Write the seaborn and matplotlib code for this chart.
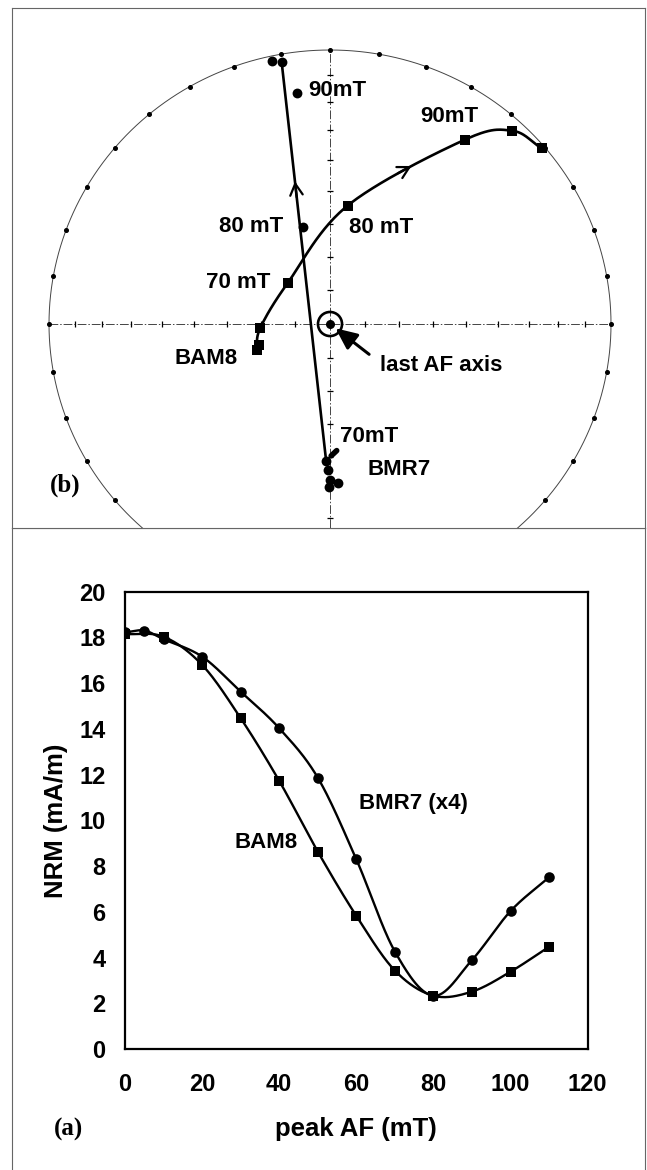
import numpy as np
import pandas as pd
import matplotlib
matplotlib.use('Agg')
import matplotlib.pyplot as plt
import seaborn as sns

# (a) AF demagnetisation of the NRM intensity
af_bmr7 = [0, 5, 10, 20, 30, 40, 50, 60, 70, 80, 90, 100, 110]
nrm_bmr7 = [18.22, 18.30, 17.92, 17.16, 15.63, 14.03, 11.87, 8.30, 4.27, 2.34, 3.90, 6.04, 7.52]
af_bam8 = [0, 10, 20, 30, 40, 50, 60, 70, 80, 90, 100, 110]
nrm_bam8 = [18.15, 18.03, 16.80, 14.47, 11.73, 8.64, 5.83, 3.44, 2.34, 2.52, 3.39, 4.48]

# (b) directions (declination, inclination) on the equal-area net
bam8_dec = [250.0, 252.9, 266.9, 315.4, 8.3, 35.5, 42.6, 49.6]
bam8_inc = [67.3, 68.3, 69.8, 72.7, 54.0, 18.5, 4.7, 1.3]
bmr7_dec = [181.6, 180.6, 180.0, 177.1, 180.2, 345.0, 352.0, 347.8, 349.8]
bmr7_inc = [48.7, 45.7, 42.5, 41.4, 40.2, 59.9, 16.1, 1.9, 3.1]
last_af_dec, last_af_inc = 0.0, 90.0

sns.set_theme(style='white')
plt.rcParams['font.family'] = ['Liberation Sans', 'DejaVu Sans']
plt.rcParams['font.weight'] = 'bold'
plt.rcParams['text.color'] = 'black'
plt.rcParams['axes.labelcolor'] = 'black'
plt.rcParams['xtick.color'] = 'black'
plt.rcParams['ytick.color'] = 'black'


def equal_area(dec, inc):
    dec = np.radians(np.asarray(dec, float))
    r = np.sqrt(2) * np.sin(np.radians(90 - np.abs(np.asarray(inc, float))) / 2)
    return r * np.sin(dec), r * np.cos(dec)


def smooth(x, y, sx=1.0, sy=1.0, n=30):
    # catmull-rom through the points, like excel's smoothed line
    p = np.column_stack([np.asarray(x, float) * sx, np.asarray(y, float) * sy])
    p = np.vstack([2 * p[0] - p[1], p, 2 * p[-1] - p[-2]])
    t = np.linspace(0, 1, n, endpoint=False)[:, None]
    segs = []
    for i in range(1, len(p) - 2):
        p0, p1, p2, p3 = p[i - 1], p[i], p[i + 1], p[i + 2]
        segs.append(0.5 * (2 * p1 + (p2 - p0) * t + (2 * p0 - 5 * p1 + 4 * p2 - p3) * t ** 2
                           + (3 * p1 - p0 - 3 * p2 + p3) * t ** 3))
    segs.append(p[-2][None, :])
    out = np.vstack(segs)
    return out[:, 0] / sx, out[:, 1] / sy


fig = plt.figure(figsize=(6.47, 11.70), dpi=100)
frame_col = '#666666'

# ---------- panel (a) frame ----------
axbg = fig.add_axes([0.01855, -0.01, 0.97836, 0.55872], zorder=-1)
axbg.set_xticks([])
axbg.set_yticks([])
axbg.set_facecolor('none')
for s in ['left', 'right', 'top']:
    axbg.spines[s].set_color(frame_col)
    axbg.spines[s].set_linewidth(0.8)
axbg.spines['bottom'].set_visible(False)

# ---------- (a) NRM vs peak AF ----------
ax = fig.add_axes([0.1932, 0.1032, 0.7151, 0.3911])
n = 30
for xs, ys in [(af_bmr7, nrm_bmr7), (af_bam8, nrm_bam8)]:
    cx, cy = smooth(xs, ys, sx=3.856, sy=22.88, n=n)
    sns.lineplot(x=cx, y=cy, sort=False, estimator=None, color='black', linewidth=1.7, ax=ax)
sns.scatterplot(data=pd.DataFrame({'af': af_bmr7, 'nrm': nrm_bmr7}), x='af', y='nrm',
                marker='o', s=58, color='black', edgecolor='black', linewidth=0, ax=ax, zorder=3)
sns.scatterplot(data=pd.DataFrame({'af': af_bam8, 'nrm': nrm_bam8}), x='af', y='nrm',
                marker='s', s=48, color='black', edgecolor='black', linewidth=0, ax=ax, zorder=3)
ax.set_xlim(0, 120)
ax.set_ylim(0, 20)
ax.set_xticks(range(0, 121, 20))
ax.set_yticks(range(0, 21, 2))
ax.tick_params(axis='both', direction='in', length=5, width=1.2, labelsize=17, color='black')
ax.tick_params(axis='x', pad=17)
ax.tick_params(axis='y', pad=14)
for s in ax.spines.values():
    s.set_color('black')
    s.set_linewidth(1.6)
ax.set_xlabel('peak AF (mT)', fontsize=18.5, fontweight='bold', va='center')
ax.set_ylabel('NRM (mA/m)', fontsize=18.5, fontweight='bold', va='center')
ax.xaxis.set_label_coords(0.5, -0.174)
ax.yaxis.set_label_coords(-0.1498, 0.5)
ax.text(74.7, 10.76, 'BMR7 (x4)', fontsize=16, fontweight='bold', ha='center', va='center')
ax.text(36.6, 9.02, 'BAM8', fontsize=16, fontweight='bold', ha='center', va='center')

# ---------- (b) equal-area stereonet ----------
axs = fig.add_axes([0.01855, 0.54872, 0.97836, 0.44444])
axs.set_xlim(-1.1317, 1.1210)
axs.set_ylim(-0.7445, 1.1533)
axs.set_xticks([])
axs.set_yticks([])
for s in axs.spines.values():
    s.set_color(frame_col)
    s.set_linewidth(0.8)

net_col = '#444444'
th = np.linspace(0, 2 * np.pi, 721)
axs.plot(np.sin(th), np.cos(th), color=net_col, lw=0.7, zorder=1)
tick_dec = np.arange(0, 360, 10)
axs.plot(*equal_area(tick_dec, np.zeros_like(tick_dec)), 'o', ms=2.6, color='black', zorder=2)
dash = (0, (9, 2, 1.5, 2))
axs.plot([-1, 1], [0, 0], color=net_col, lw=0.7, ls=dash, zorder=1)
axs.plot([0, 0], [-1, 1], color=net_col, lw=0.7, ls=dash, zorder=1)
inc_ticks = np.arange(10, 90, 10)
r_ticks = np.sqrt(2) * np.sin(np.radians(90 - inc_ticks) / 2)
axs.plot(np.concatenate([r_ticks, -r_ticks]), np.zeros(2 * len(r_ticks)), '|', ms=5,
         mew=0.9, color='black', zorder=2)
axs.plot(np.zeros(2 * len(r_ticks)), np.concatenate([r_ticks, -r_ticks]), '_', ms=5,
         mew=0.9, color='black', zorder=2)

bx, by = equal_area(bam8_dec, bam8_inc)
mx, my = equal_area(bmr7_dec, bmr7_inc)

# BAM8: smooth path, BMR7: straight great-circle trace
curve = [0, 2, 3, 4, 5, 6, 7]
cbx, cby = smooth(bx[curve], by[curve], sx=281, sy=274, n=n)
sns.lineplot(x=cbx, y=cby, sort=False, estimator=None, color='black', linewidth=1.9, ax=axs)
sns.lineplot(x=[mx[0], mx[8]], y=[my[0], my[8]], sort=False, estimator=None,
             color='black', linewidth=1.9, ax=axs)
sns.scatterplot(x=bx, y=by, marker='s', s=48, color='black', linewidth=0, ax=axs, zorder=4)
sns.scatterplot(x=mx, y=my, marker='o', s=50, color='black', linewidth=0, ax=axs, zorder=4)

# direction arrows
arrow_kw = dict(arrowstyle='->,head_length=0.55,head_width=0.3', lw=1.6, color='black',
                mutation_scale=15, shrinkA=0, shrinkB=0)
k = 3 * n + n // 2
axs.annotate('', xy=(cbx[k + 1], cby[k + 1]), xytext=(cbx[k - 2], cby[k - 2]), arrowprops=arrow_kw)
f1, f0 = 0.70, 0.66
axs.annotate('', xy=(mx[0] + f1 * (mx[8] - mx[0]), my[0] + f1 * (my[8] - my[0])),
             xytext=(mx[0] + f0 * (mx[8] - mx[0]), my[0] + f0 * (my[8] - my[0])),
             arrowprops=arrow_kw)

# last AF axis
lx, ly = equal_area(last_af_dec, last_af_inc)
axs.scatter([lx], [ly], s=300, facecolor='none', edgecolor='black', linewidth=1.9, zorder=5)
axs.scatter([lx], [ly], s=30, color='black', zorder=5)
axs.annotate('last AF axis', xy=(lx, ly), xytext=(36, -30), textcoords='offset points',
             fontsize=16, fontweight='bold', ha='left', va='center',
             arrowprops=dict(arrowstyle='-|>,head_length=1.0,head_width=0.45', lw=2.2,
                             color='black', mutation_scale=13, shrinkA=1, shrinkB=5,
                             relpos=(-0.08, 1.0)))

labels_b = [
    ('70 mT', bx[3], by[3], (-13, 0), 'right'),
    ('80 mT', bx[4], by[4], (1, -16), 'left'),
    ('90mT', bx[5], by[5], (-32, 16.5), 'left'),
    ('BAM8', bx[0], by[0], (-13.4, -5.8), 'right'),
    ('80 mT', mx[5], my[5], (-14.6, 0), 'right'),
    ('90mT', mx[6], my[6], (8, 2.4), 'left'),
    ('BMR7', mx[0], my[0], (29.5, -6.7), 'left'),
]
for txt, x0, y0, off, ha in labels_b:
    axs.annotate(txt, xy=(x0, y0), xytext=off, textcoords='offset points', fontsize=16,
                 fontweight='bold', ha=ha, va='center', zorder=6)
axs.annotate('70mT', xy=(mx[0], my[0]), xytext=(10, 17), textcoords='offset points',
             fontsize=16, fontweight='bold', ha='left', va='center', zorder=6,
             arrowprops=dict(arrowstyle='-', lw=4, color='black', shrinkA=0, shrinkB=5,
                             relpos=(0.0, 0.0)))

fig.text(0.0773, 1 - 485 / 1170, '(b)', fontsize=18, fontweight='bold',
         family=['Liberation Serif', 'DejaVu Serif'], ha='left', va='center')
fig.text(0.0828, 1 - 1129 / 1170, '(a)', fontsize=18, fontweight='bold',
         family=['Liberation Serif', 'DejaVu Serif'], ha='left', va='center')

fig.savefig('out.png', dpi=100, facecolor='white')
